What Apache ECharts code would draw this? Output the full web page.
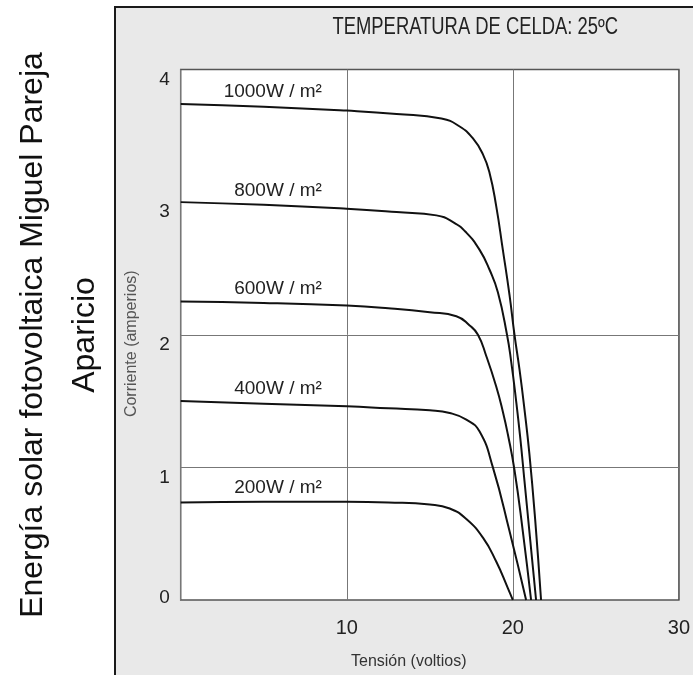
<!DOCTYPE html>
<html>
<head>
<meta charset="utf-8">
<script src="https://cdn.jsdelivr.net/npm/echarts@6/dist/echarts.min.js"></script>
<style>html,body{margin:0;padding:0;background:#fff}#c{width:693px;height:675px}</style>
</head>
<body>
<div id="c"></div>
<script>
// ---- data ----
const xTicks = [0, 10, 20, 30];
const yTicks = [0, 1, 2, 3, 4];
const gridCurrents = [1, 2];
const seriesNames = ['1000W / m²', '800W / m²', '600W / m²', '400W / m²', '200W / m²'];

const volt1000 = [0, 5, 10, 13, 15.7, 16.8, 17.6, 18.2, 18.6, 19.0, 19.4, 19.8, 20.1, 20.4, 20.7, 21.0, 21.35, 21.7];
const amp1000  = [3.74, 3.72, 3.69, 3.665, 3.63, 3.57, 3.48, 3.36, 3.22, 2.97, 2.64, 2.30, 2.00, 1.74, 1.44, 1.10, 0.60, 0];

const volt800 = [0, 5, 10, 13, 15.4, 16.4, 17.2, 18.0, 18.6, 19.1, 19.65, 19.9, 20.2, 20.45, 20.7, 21.05, 21.4];
const amp800  = [3.0, 2.98, 2.95, 2.925, 2.90, 2.85, 2.77, 2.64, 2.49, 2.32, 2.00, 1.80, 1.50, 1.22, 0.90, 0.45, 0];

const volt600 = [0, 5, 10, 12.5, 15, 16.6, 17.4, 17.9, 18.4, 19.0, 19.4, 19.7, 20.1, 20.6, 21.1];
const amp600  = [2.25, 2.24, 2.22, 2.20, 2.17, 2.14, 2.07, 2.00, 1.84, 1.61, 1.42, 1.25, 0.98, 0.52, 0];

const volt400 = [0, 5, 10, 12.5, 15, 16.2, 17.2, 18.0, 18.8, 19.8, 20.8];
const amp400  = [1.50, 1.48, 1.46, 1.445, 1.43, 1.41, 1.36, 1.27, 1.0, 0.52, 0];

const volt200 = [0, 5, 10, 12.5, 15, 16.2, 17.2, 18.2, 19.0, 19.7, 20.0];
const amp200  = [0.735, 0.74, 0.74, 0.735, 0.72, 0.69, 0.61, 0.47, 0.29, 0.09, 0];

const labelVoltage = 8.5;

const titleText = 'TEMPERATURA DE CELDA: 25ºC';
const xName = 'Tensión (voltios)';
const yName = 'Corriente (amperios)';
const sideText = 'Energía solar fotovoltaica Miguel Pareja\nAparicio';

// ---- build ----
const volts = [volt1000, volt800, volt600, volt400, volt200];
const amps = [amp1000, amp800, amp600, amp400, amp200];

const chart = echarts.init(document.getElementById('c'), null, {renderer: 'canvas'});

const series = seriesNames.map((name, i) => ({
  name: name,
  type: 'line',
  data: volts[i].map((v, k) => [v, amps[i][k]]),
  showSymbol: false,
  smooth: 0.5,
  lineStyle: {color: '#111', width: 2},
  z: 5,
  markPoint: {
    symbol: 'circle',
    symbolSize: 0,
    silent: true,
    data: [{coord: [labelVoltage, amps[i][1]]}],
    label: {
      show: true,
      position: 'top',
      distance: 5,
      align: 'right',
      formatter: name,
      fontFamily: 'Liberation Sans, Arial, sans-serif',
      fontSize: 19,
      color: '#222'
    }
  }
}));

// grid lines at current 1 and 2 (no line at 3 in the reference)
series.push({
  type: 'line',
  data: [],
  silent: true,
  markLine: {
    symbol: 'none',
    silent: true,
    label: {show: false},
    lineStyle: {color: '#777', width: 1, type: 'solid'},
    data: gridCurrents.map(c => ({yAxis: c}))
  },
  z: 2
});

chart.setOption({
  animation: false,
  backgroundColor: '#fff',
  graphic: [
    {
      type: 'rect',
      z: -100,
      shape: {x: 115, y: 7, width: 620, height: 700},
      style: {fill: '#e9e9e9', stroke: '#1a1a1a', lineWidth: 2}
    },
    {
      type: 'text',
      x: 618,
      y: 28,
      scaleX: 0.8,
      style: {
        text: titleText,
        fontFamily: 'Liberation Sans, Arial, sans-serif',
        fontSize: 23,
        fill: '#222',
        align: 'right',
        verticalAlign: 'middle'
      }
    },
    {
      type: 'text',
      x: 59,
      y: 335,
      rotation: Math.PI / 2,
      style: {
        text: sideText,
        fontFamily: 'Liberation Sans, Arial, sans-serif',
        fontSize: 32,
        lineHeight: 52,
        fill: '#111',
        align: 'center',
        verticalAlign: 'middle'
      }
    }
  ],
  grid: {
    left: 180.7,
    right: 13.7,
    top: 69.5,
    bottom: 73.3,
    show: true,
    backgroundColor: '#fff',
    borderColor: '#555',
    borderWidth: 1.5
  },
  xAxis: {
    type: 'value',
    min: xTicks[0],
    max: xTicks[xTicks.length - 1],
    interval: 10,
    name: xName,
    nameLocation: 'middle',
    nameGap: 54,
    nameTextStyle: {fontFamily: 'Liberation Sans, Arial, sans-serif', fontSize: 16, color: '#333', padding: [0, 42, 0, 0]},
    axisLine: {show: false},
    axisTick: {show: false},
    splitLine: {show: true, lineStyle: {color: '#777', width: 1}},
    axisLabel: {
      margin: 18,
      fontFamily: 'Liberation Sans, Arial, sans-serif',
      fontSize: 20,
      color: '#222',
      formatter: v => (v === 0 ? '' : String(v))
    }
  },
  yAxis: {
    type: 'value',
    min: yTicks[0],
    max: yTicks[yTicks.length - 1],
    interval: 1,
    name: yName,
    nameLocation: 'middle',
    nameGap: 41,
    nameRotate: 90,
    nameTextStyle: {fontFamily: 'Liberation Sans, Arial, sans-serif', fontSize: 16, color: '#555', padding: [0, 18, 0, 0]},
    axisLine: {show: false},
    axisTick: {show: false},
    splitLine: {show: false},
    axisLabel: {
      margin: 11,
      color: '#222',
      formatter: v => (v === 0 ? '{z|' + v + '}' : '{n|' + v + '}'),
      rich: {
        n: {fontFamily: 'Liberation Sans, Arial, sans-serif', fontSize: 19, color: '#222', padding: [20, 0, 0, 0]},
        z: {fontFamily: 'Liberation Sans, Arial, sans-serif', fontSize: 19, color: '#222', padding: [0, 0, 4, 0]}
      }
    }
  },
  series: series
});
</script>
</body>
</html>
